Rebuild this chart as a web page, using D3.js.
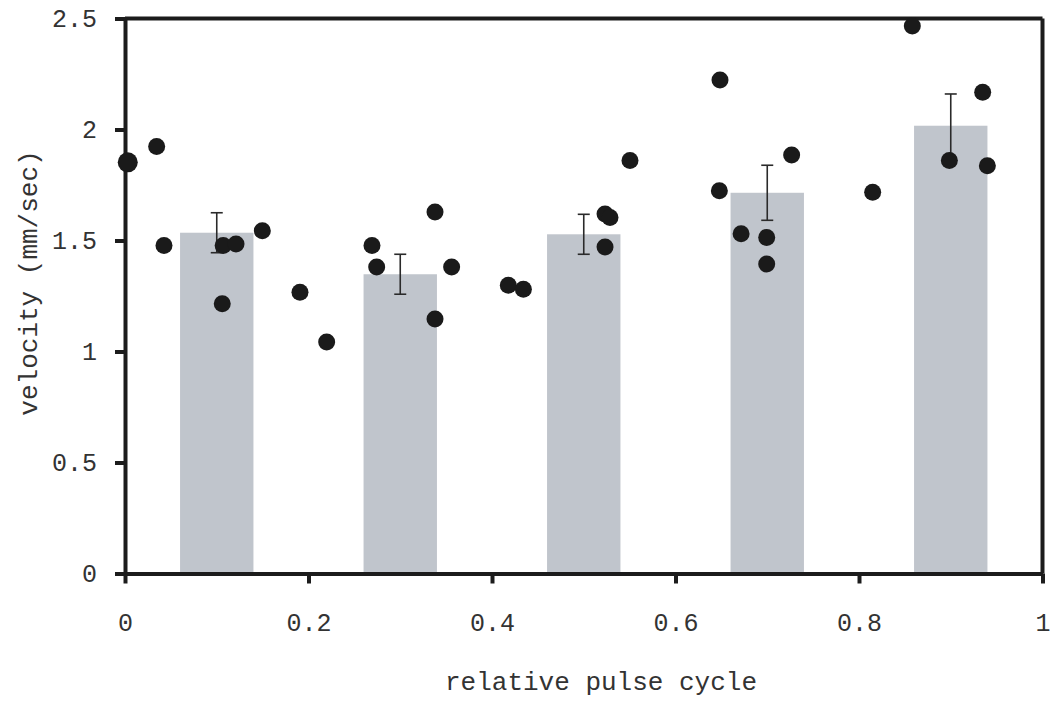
<!DOCTYPE html>
<html>
<head>
<meta charset="utf-8">
<script src="https://cdn.jsdelivr.net/npm/d3@7/dist/d3.min.js"></script>
<style>
  html, body { margin: 0; padding: 0; background: #fff; }
  svg { display: block; }
  text { font-family: "Liberation Mono", "DejaVu Sans Mono", monospace; fill: #333; }
</style>
</head>
<body>
<svg id="chart" width="1060" height="703"></svg>
<script>
// ---- data ----
const barCenters = [0.1, 0.3, 0.5, 0.7, 0.9];
const barValues  = [1.535, 1.348, 1.528, 1.715, 2.017];
const barErrors  = [0.09, 0.09, 0.09, 0.124, 0.143];
const barWidth   = 0.08;

const pointX = [0.003, 0.0345, 0.0425, 0.107, 0.121, 0.1497, 0.106, 0.1907, 0.2198,
                0.2692, 0.2743, 0.3379, 0.3379, 0.356, 0.4178, 0.4342, 0.5504, 0.5232,
                0.5286, 0.5232, 0.6478, 0.6715, 0.6485, 0.7266, 0.6994, 0.6994, 0.8149,
                0.8581, 0.9348, 0.8985, 0.9399];
const pointY = [1.852, 1.923, 1.477, 1.477, 1.484, 1.544, 1.215, 1.267, 1.043,
                1.477, 1.381, 1.628, 1.146, 1.381, 1.298, 1.280, 1.860, 1.619,
                1.604, 1.471, 1.724, 1.530, 2.223, 1.885, 1.514, 1.394, 1.717,
                2.466, 2.168, 1.860, 1.837];

const xTicks = [0, 0.2, 0.4, 0.6, 0.8, 1];
const xTickLabels = ["0", "0.2", "0.4", "0.6", "0.8", "1"];
const yTicks = [0, 0.5, 1, 1.5, 2, 2.5];
const yTickLabels = ["0", "0.5", "1", "1.5", "2", "2.5"];
const xTitle = "relative pulse cycle";
const yTitle = "velocity (mm/sec)";

// ---- layout ----
const svg = d3.select("#chart");
const mLeft = 125, mRight = 1042.5, mTop = 18.5, mBottom = 573.5;
const x = d3.scaleLinear().domain([0, 1]).range([mLeft, mRight]);
const y = d3.scaleLinear().domain([0, 2.5]).range([mBottom, mTop]);

const axisColor = "#1c1c1c";
const axisW = 4;

// bars
svg.append("g").selectAll("rect").data(barCenters).join("rect")
  .attr("x", d => x(d - barWidth / 2))
  .attr("width", d => x(d + barWidth / 2) - x(d - barWidth / 2))
  .attr("y", (d, i) => y(barValues[i]))
  .attr("height", (d, i) => y(0) - y(barValues[i]))
  .attr("fill", "#c0c5cc");

// error bars
const eg = svg.append("g").attr("stroke", "#2a2a2a").attr("stroke-width", 1.6);
barCenters.forEach((c, i) => {
  const cx = x(c), hi = y(barValues[i] + barErrors[i]), lo = y(barValues[i] - barErrors[i]);
  eg.append("line").attr("x1", cx).attr("x2", cx).attr("y1", hi).attr("y2", lo);
  eg.append("line").attr("x1", cx - 6).attr("x2", cx + 6).attr("y1", hi).attr("y2", hi);
  eg.append("line").attr("x1", cx - 6).attr("x2", cx + 6).attr("y1", lo).attr("y2", lo);
});

// frame: top and right
svg.append("line").attr("x1", x(0)).attr("x2", x(1)).attr("y1", y(2.5)).attr("y2", y(2.5))
  .attr("stroke", axisColor).attr("stroke-width", axisW);
svg.append("line").attr("x1", x(1)).attr("x2", x(1)).attr("y1", y(2.5)).attr("y2", y(0))
  .attr("stroke", axisColor).attr("stroke-width", axisW);

// axes
const xAxis = d3.axisBottom(x).tickValues(xTicks).tickFormat((d, i) => xTickLabels[i])
  .tickSize(10).tickSizeOuter(0).tickPadding(30);
const yAxis = d3.axisLeft(y).tickValues(yTicks).tickFormat((d, i) => yTickLabels[i])
  .tickSize(10).tickSizeOuter(0).tickPadding(18);

const gx = svg.append("g").attr("transform", `translate(0,${y(0)})`).call(xAxis);
const gy = svg.append("g").attr("transform", `translate(${x(0)},0)`).call(yAxis);
[gx, gy].forEach(g => {
  g.select(".domain").attr("stroke", axisColor).attr("stroke-width", axisW);
  g.selectAll(".tick line").attr("stroke", axisColor).attr("stroke-width", axisW);
  g.selectAll(".tick text").attr("font-size", 25).attr("fill", "#3a3a3a")
    .style("font-family", "'Liberation Mono', monospace");
});
gx.selectAll(".tick text").attr("dy", "0.71em");

// points
svg.append("g").selectAll("circle").data(pointX).join("circle")
  .attr("cx", d => x(d))
  .attr("cy", (d, i) => y(pointY[i]))
  .attr("r", (d, i) => i === 0 ? 10 : 8.5)
  .attr("fill", "#1a1a1a");

// titles
svg.append("text").attr("x", 601).attr("y", 690).attr("text-anchor", "middle")
  .attr("font-size", 26).attr("fill", "#3a3a3a").text(xTitle);
svg.append("text").attr("transform", "translate(37,283) rotate(-90)")
  .attr("text-anchor", "middle").attr("font-size", 26).attr("fill", "#3a3a3a").text(yTitle);
</script>
</body>
</html>
